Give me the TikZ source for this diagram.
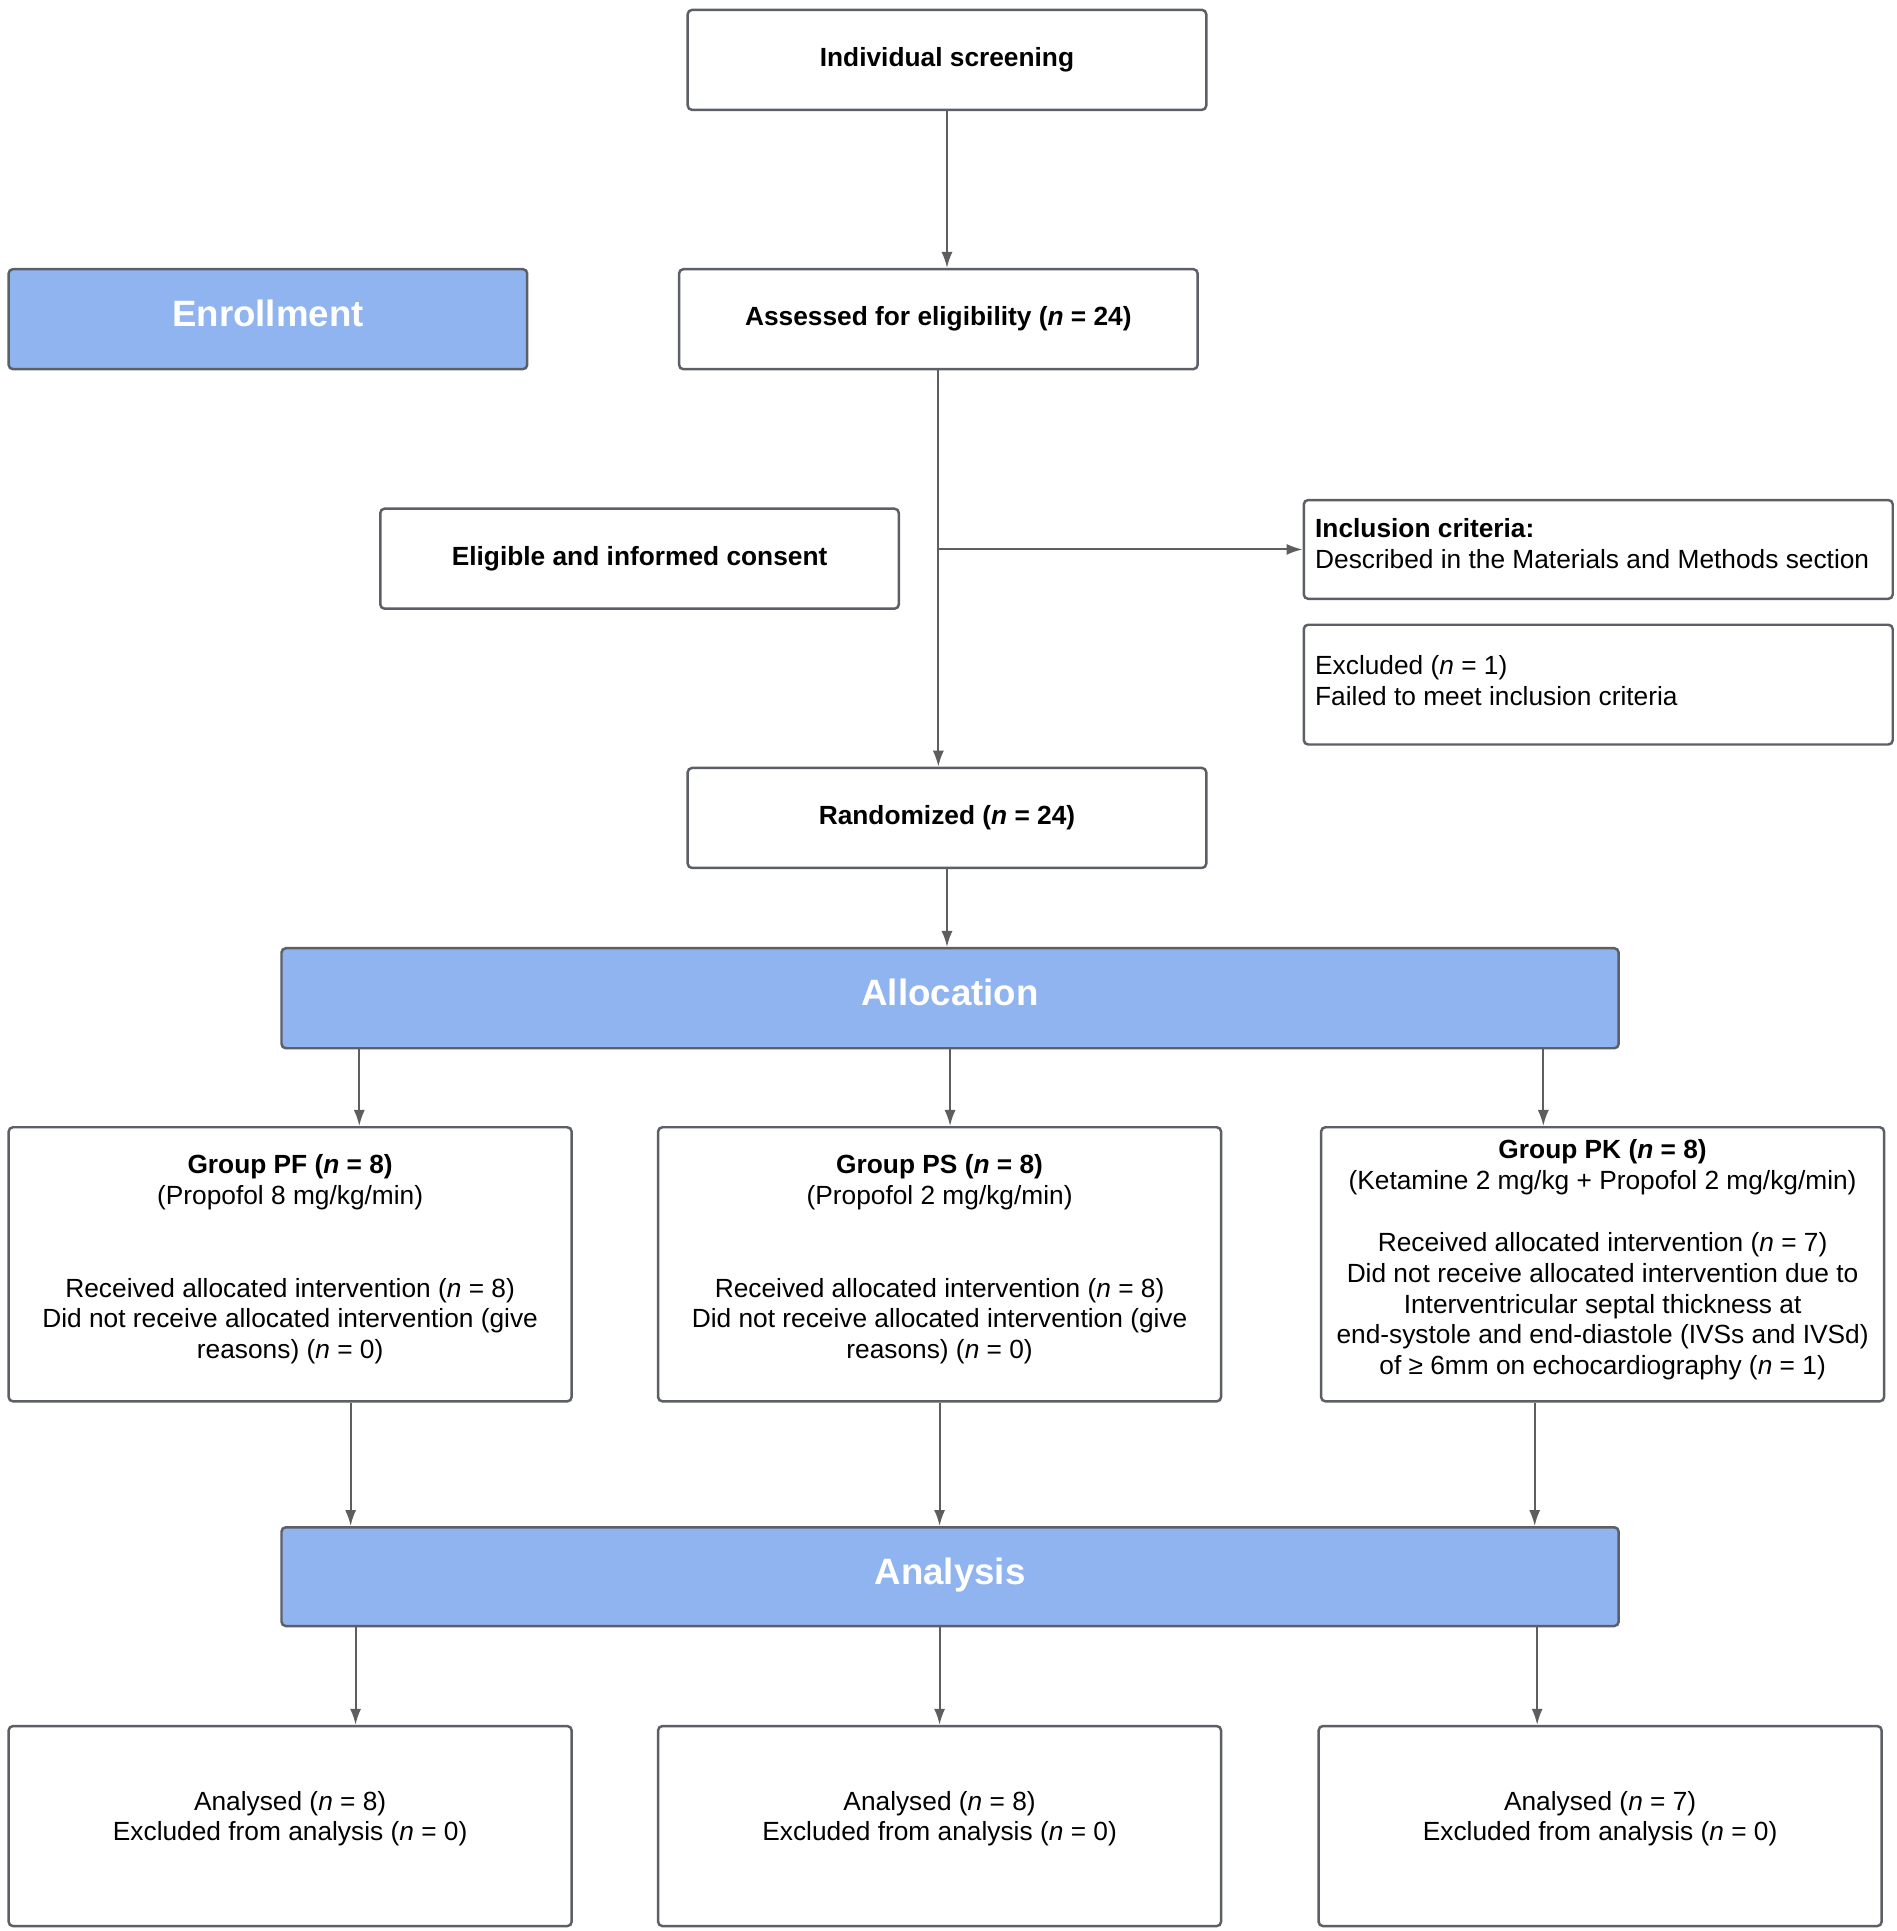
\documentclass[tikz,border=0pt]{standalone}
\usepackage{fontspec}
\setmainfont{Liberation Sans}
\usetikzlibrary{arrows.meta,calc}
\definecolor{boxline}{HTML}{5C5F66}
\definecolor{conn}{HTML}{5E5E5E}
\definecolor{bluefill}{HTML}{90B4F0}
\begin{document}
\begin{tikzpicture}[x=1pt,y=-1pt,
  box/.style={draw=boxline,line width=2pt,rounded corners=3.5pt,fill=white,inner sep=0pt},
  sbox/.style={box,minimum width=420pt,minimum height=81pt,
    font=\fontsize{21.3}{25}\selectfont},
  gbox/.style={box,minimum width=456pt},
  lbox/.style={box,minimum width=477pt},
  txt/.style={align=center,inner sep=0pt,font=\fontsize{21.3}{25}\selectfont},
  ltxt/.style={txt,align=left,anchor=west},
  phase/.style={draw=boxline,line width=2pt,rounded corners=3.5pt,fill=bluefill,
    text=white,font=\fontsize{29.7}{34}\selectfont\bfseries,minimum height=81pt,
    text height=22pt,text depth=10pt},
  arr/.style={draw=conn,line width=1.6pt,-{Latex[length=13pt,width=9pt]}}
]
\useasboundingbox (0,0) rectangle (1536,1564);

\node[sbox] (screen) at (767,48.5) {\textbf{Individual screening}};
\node[phase,minimum width=420pt] (enroll) at (217,258.5) {Enrollment};
\node[sbox] (assess) at (760,258.5) {\textbf{Assessed for eligibility (\textit{n} = 24)}};
\node[sbox] (elig) at (518,452.5) {\textbf{Eligible and informed consent}};

\node[lbox,minimum height=80pt] (incl) at (1294.5,445) {};
\node[ltxt] (inclt) at ($(incl.west)+(10,-4.5)$) {\textbf{Inclusion criteria:}\\Described in the Materials and Methods section};
\node[lbox,minimum height=97pt] (excl) at (1294.5,554.5) {};
\node[ltxt] (exclt) at ($(excl.west)+(10,-3)$) {Excluded (\textit{n} = 1)\\Failed to meet inclusion criteria};

\node[sbox] (rand) at (767,662.5) {\textbf{Randomized (\textit{n} = 24)}};
\node[phase,minimum width=1083pt] (alloc) at (769.5,808.5) {Allocation};

\node[gbox,minimum height=222pt] (pf) at (235,1024) {};
\node[txt] (pft) at ($(pf.center)+(0,-4)$) {\textbf{Group PF (\textit{n} = 8)}\\(Propofol 8 mg/kg/min)\\[50pt]Received allocated intervention (\textit{n} = 8)\\Did not receive allocated intervention (give\\reasons) (\textit{n} = 0)};
\node[gbox,minimum height=222pt] (ps) at (761,1024) {};
\node[txt] (pst) at ($(ps.center)+(0,-4)$) {\textbf{Group PS (\textit{n} = 8)}\\(Propofol 2 mg/kg/min)\\[50pt]Received allocated intervention (\textit{n} = 8)\\Did not receive allocated intervention (give\\reasons) (\textit{n} = 0)};
\node[gbox,minimum height=222pt] (pk) at (1298,1024) {};
\node[txt] (pkt) at ($(pk.center)+(0,-3.5)$) {\textbf{Group PK (\textit{n} = 8)}\\(Ketamine 2 mg/kg + Propofol 2 mg/kg/min)\\[25pt]Received allocated intervention (\textit{n} = 7)\\Did not receive allocated intervention due to\\Interventricular septal thickness at\\end-systole and end-diastole (IVSs and IVSd)\\of ≥ 6mm on echocardiography (\textit{n} = 1)};

\node[phase,minimum width=1083pt,minimum height=80pt] (anal) at (769.5,1277) {Analysis};

\node[gbox,minimum height=162pt] (a1) at (235,1479) {};
\node[txt] (a1t) at ($(a1.center)+(0,-6)$) {Analysed (\textit{n} = 8)\\Excluded from analysis (\textit{n} = 0)};
\node[gbox,minimum height=162pt] (a2) at (761,1479) {};
\node[txt] (a2t) at ($(a2.center)+(0,-6)$) {Analysed (\textit{n} = 8)\\Excluded from analysis (\textit{n} = 0)};
\node[gbox,minimum height=162pt] (a3) at (1296,1479) {};
\node[txt] (a3t) at ($(a3.center)+(0,-6)$) {Analysed (\textit{n} = 7)\\Excluded from analysis (\textit{n} = 0)};

% helper x positions
\coordinate (xa) at (291,0);
\coordinate (xb) at (1250,0);
\coordinate (xc) at (284,0);
\coordinate (xd) at (1243,0);
\coordinate (xe) at (288,0);
\coordinate (xf) at (1245,0);

\draw[arr] (screen.south) -- (screen.south |- assess.north);
\draw[arr] (assess.south) -- (assess.south |- rand.north);
\coordinate (br) at (assess.south |- incl.west);
\draw[arr] (br) -- (incl.west);
\draw[arr] (rand.south) -- (rand.south |- alloc.north);

\draw[arr] (alloc.south -| xa) -- (pf.north -| xa);
\draw[arr] (alloc.south) -- (alloc.south |- ps.north);
\draw[arr] (alloc.south -| xb) -- (pk.north -| xb);

\draw[arr] (pf.south -| xc) -- (anal.north -| xc);
\draw[arr] (ps.south) -- (ps.south |- anal.north);
\draw[arr] (pk.south -| xd) -- (anal.north -| xd);

\draw[arr] (anal.south -| xe) -- (a1.north -| xe);
\draw[arr] (anal.south -| a2.north) -- (a2.north);
\draw[arr] (anal.south -| xf) -- (a3.north -| xf);
\end{tikzpicture}
\end{document}
